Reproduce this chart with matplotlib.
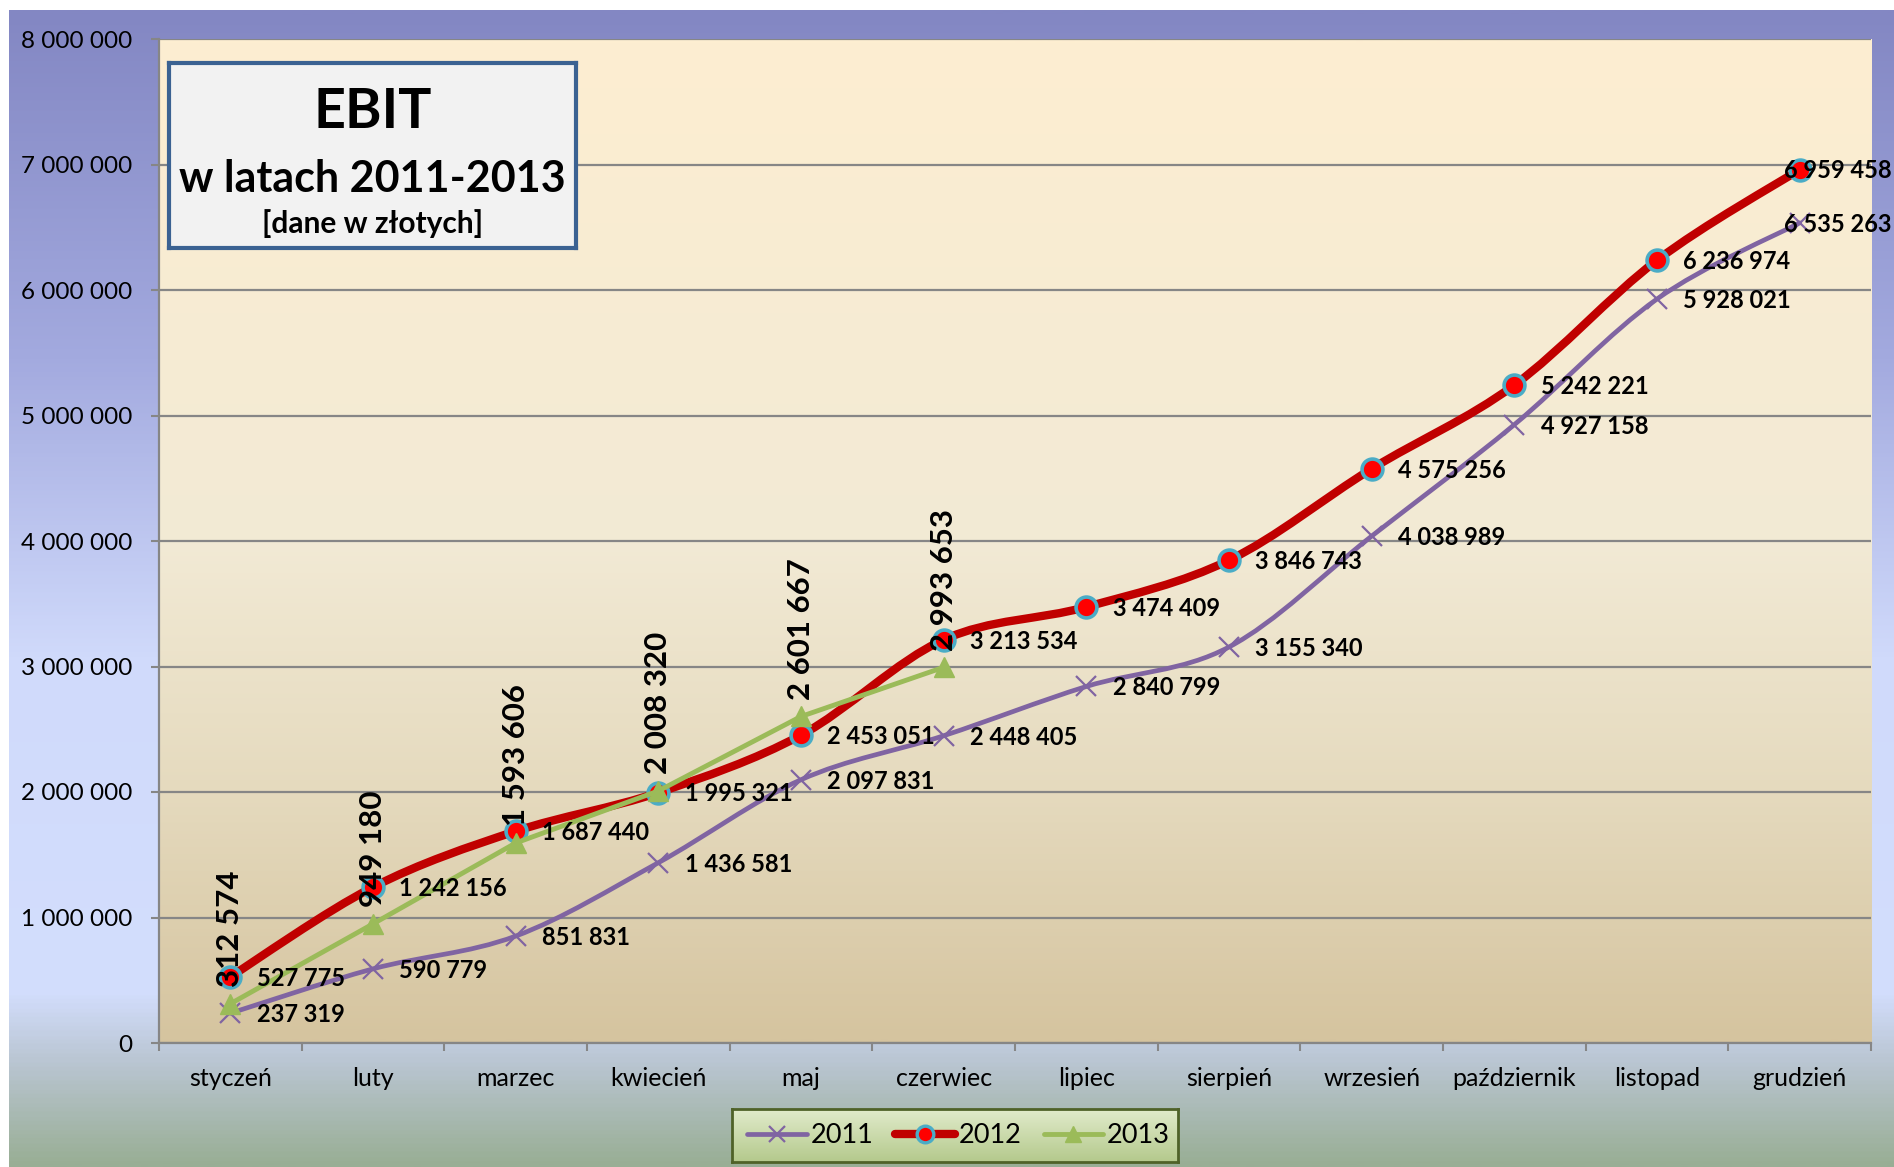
import numpy as np
import matplotlib
matplotlib.use('Agg')
import matplotlib.pyplot as plt
from matplotlib.colors import LinearSegmentedColormap
from matplotlib.path import Path
from matplotlib.patches import PathPatch
from matplotlib.lines import Line2D
from matplotlib.ticker import FuncFormatter

plt.rcParams['font.family'] = ['Lato', 'DejaVu Sans']

# ---------------- data ----------------
months = ['styczeń', 'luty', 'marzec', 'kwiecień', 'maj', 'czerwiec', 'lipiec',
          'sierpień', 'wrzesień', 'październik', 'listopad', 'grudzień']
ebit_2011 = [237319, 590779, 851831, 1436581, 2097831, 2448405, 2840799,
             3155340, 4038989, 4927158, 5928021, 6535263]
ebit_2012 = [527775, 1242156, 1687440, 1995321, 2453051, 3213534, 3474409,
             3846743, 4575256, 5242221, 6236974, 6959458]
ebit_2013 = [312574, 949180, 1593606, 2008320, 2601667, 2993653]
series_names = ['2011', '2012', '2013']
y_ticks = [0, 1000000, 2000000, 3000000, 4000000, 5000000, 6000000, 7000000, 8000000]
title_lines = ['EBIT', 'w latach 2011-2013', '[dane w złotych]']

# ---------------- styles ----------------
C2011 = '#8064A2'
C2012 = '#C00000'
C2012_FACE = '#FF0000'
C2012_EDGE = '#4BACC6'
C2013 = '#9BBB59'
GRID = '#868686'

W, H = 1894, 1167
fig = plt.figure(figsize=(W / 100, H / 100), dpi=100)
fig.patch.set_facecolor('white')


def px(x0, y0, x1, y1):
    return [x0 / W, 1 - y1 / H, (x1 - x0) / W, (y1 - y0) / H]


# background gradient of the chart area
bg = fig.add_axes(px(9, 10, W, H), zorder=-10)
bg.axis('off')
cmap_bg = LinearSegmentedColormap.from_list('bg', [
    (0.0, '#8387C3'), (0.30, '#A3AADF'), (0.56, '#D0DAFB'), (0.85, '#D3DEFD'),
    (0.91, '#BAC6D3'), (1.0, '#99AE95')])
grad = np.linspace(0, 1, 600).reshape(-1, 1)
bg.imshow(grad, cmap=cmap_bg, aspect='auto', extent=[0, 1, 0, 1], origin='upper')
bg.set_xlim(0, 1)
bg.set_ylim(0, 1)

# main plot
ax = fig.add_axes(px(159, 39, 1871, 1043), zorder=0)
ax.set_facecolor('none')
cmap_plot = LinearSegmentedColormap.from_list('pl', [
    (0.0, '#FDEED1'), (0.5, '#F2EAD5'), (0.75, '#E5DABE'), (1.0, '#D5C49F')])
ax.imshow(grad, cmap=cmap_plot, aspect='auto', extent=[0, 1, 0, 1],
          origin='upper', transform=ax.transAxes, zorder=-5)

x = np.arange(len(months))


def smooth_path(xs, ys):
    pts = np.column_stack([xs, ys]).astype(float)
    n = len(pts)
    verts = [pts[0]]
    codes = [Path.MOVETO]
    for i in range(n - 1):
        p0 = pts[i - 1] if i > 0 else pts[i]
        p1 = pts[i]
        p2 = pts[i + 1]
        p3 = pts[i + 2] if i + 2 < n else pts[i + 1]
        c1 = p1 + (p2 - p0) / 6.0
        c2 = p2 - (p3 - p1) / 6.0
        verts += [c1, c2, p2]
        codes += [Path.CURVE4] * 3
    return Path(verts, codes)


# 2011 (smoothed)
ax.add_patch(PathPatch(smooth_path(x, ebit_2011), fill=False, edgecolor=C2011,
                       lw=3.4, capstyle='round', joinstyle='round', zorder=3))
ax.plot(x, ebit_2011, linestyle='none', marker='x', ms=14, mew=1.6, color=C2011, zorder=3.5)

# 2012 (smoothed)
ax.add_patch(PathPatch(smooth_path(x, ebit_2012), fill=False, edgecolor=C2012,
                       lw=6.0, capstyle='round', joinstyle='round', zorder=4))
ax.plot(x, ebit_2012, linestyle='none', marker='o', ms=15, mew=2.6,
        markerfacecolor=C2012_FACE, markeredgecolor=C2012_EDGE, zorder=4.5)

# 2013 (straight)
x13 = np.arange(len(ebit_2013))
ax.plot(x13, ebit_2013, color=C2013, lw=3.5, marker='^', ms=14,
        solid_capstyle='round', solid_joinstyle='round', zorder=5)


def fmt(v):
    return f'{int(v):,}'.replace(',', ' ')


n = len(months)
for i, v in enumerate(ebit_2011):
    off = (19, -1) if i < n - 1 else (-11, -1)
    ax.annotate(fmt(v), (i, v), xytext=off, textcoords='offset points',
                ha='left', va='center', fontsize=17, fontweight='bold', zorder=10)
for i, v in enumerate(ebit_2012):
    off = (19, -1) if i < n - 1 else (-11, -1)
    ax.annotate(fmt(v), (i, v), xytext=off, textcoords='offset points',
                ha='left', va='center', fontsize=17, fontweight='bold', zorder=10)
for i, v in enumerate(ebit_2013):
    ax.annotate(fmt(v), (i, v), xytext=(0, 12), textcoords='offset points',
                ha='center', va='bottom', rotation=90, fontsize=22.5,
                fontweight='bold', zorder=10)

# axes
ax.set_xlim(-0.5, n - 0.5)
ax.set_ylim(0, 8000000)
ax.set_yticks(y_ticks)
ax.yaxis.set_major_formatter(FuncFormatter(lambda v, p: fmt(v)))
ax.set_xticks(x)
ax.set_xticklabels(months)
ax.set_xticks(np.arange(-0.5, n, 1.0), minor=True)
ax.tick_params(axis='x', which='major', length=0, pad=17, labelsize=18)
ax.tick_params(axis='x', which='minor', length=6, width=1.5, color=GRID, direction='out')
ax.tick_params(axis='y', which='major', length=6, width=1.5, color=GRID,
               direction='out', pad=13, labelsize=17.5)
ax.yaxis.grid(True, color=GRID, lw=1.6)
ax.set_axisbelow(True)
for s in ['top', 'right']:
    ax.spines[s].set_visible(False)
for s in ['left', 'bottom']:
    ax.spines[s].set_color(GRID)
    ax.spines[s].set_linewidth(1.6)

# title box
tb = fig.add_axes(px(169, 63, 576, 248), zorder=6)
tb.set_facecolor('#F2F2F2')
tb.set_xticks([])
tb.set_yticks([])
for s in tb.spines.values():
    s.set_color('#3B6292')
    s.set_linewidth(3)
tb.text(0.5, 0.649, title_lines[0], transform=tb.transAxes, ha='center',
        va='baseline', fontsize=40, fontweight='bold')
tb.text(0.5, 0.303, title_lines[1], transform=tb.transAxes, ha='center',
        va='baseline', fontsize=31, fontweight='bold')
tb.text(0.5, 0.081, title_lines[2], transform=tb.transAxes, ha='center',
        va='baseline', fontsize=21.5, fontweight='bold')

# legend background
lg = fig.add_axes(px(732, 1109, 1178, 1162), zorder=6)
cmap_lg = LinearSegmentedColormap.from_list('lg', ['#E1EBCB', '#B4C98C'])
lg.imshow(grad, cmap=cmap_lg, aspect='auto', extent=[0, 1, 0, 1], origin='upper')
lg.set_xlim(0, 1)
lg.set_ylim(0, 1)
lg.set_xticks([])
lg.set_yticks([])
for s in lg.spines.values():
    s.set_color('#4F6228')
    s.set_linewidth(2)

handles = [
    Line2D([], [], color=C2011, lw=3.4, marker='x', ms=12, mew=1.6, solid_capstyle='round'),
    Line2D([], [], color=C2012, lw=6.0, marker='o', ms=12, mew=2.4,
           markerfacecolor=C2012_FACE, markeredgecolor=C2012_EDGE, solid_capstyle='round'),
    Line2D([], [], color=C2013, lw=3.5, marker='^', ms=12, solid_capstyle='round'),
]
leg = fig.legend(handles, series_names, loc='center',
                 bbox_to_anchor=((732 + 1178) / 2 / W + 0.002, 1 - (1109 + 1162) / 2 / H),
                 ncol=3, frameon=False, fontsize=19.5, handlelength=2.2,
                 handletextpad=0.15, columnspacing=0.8, borderpad=0.2)
leg.set_zorder(20)

fig.savefig('out.png', dpi=100)
